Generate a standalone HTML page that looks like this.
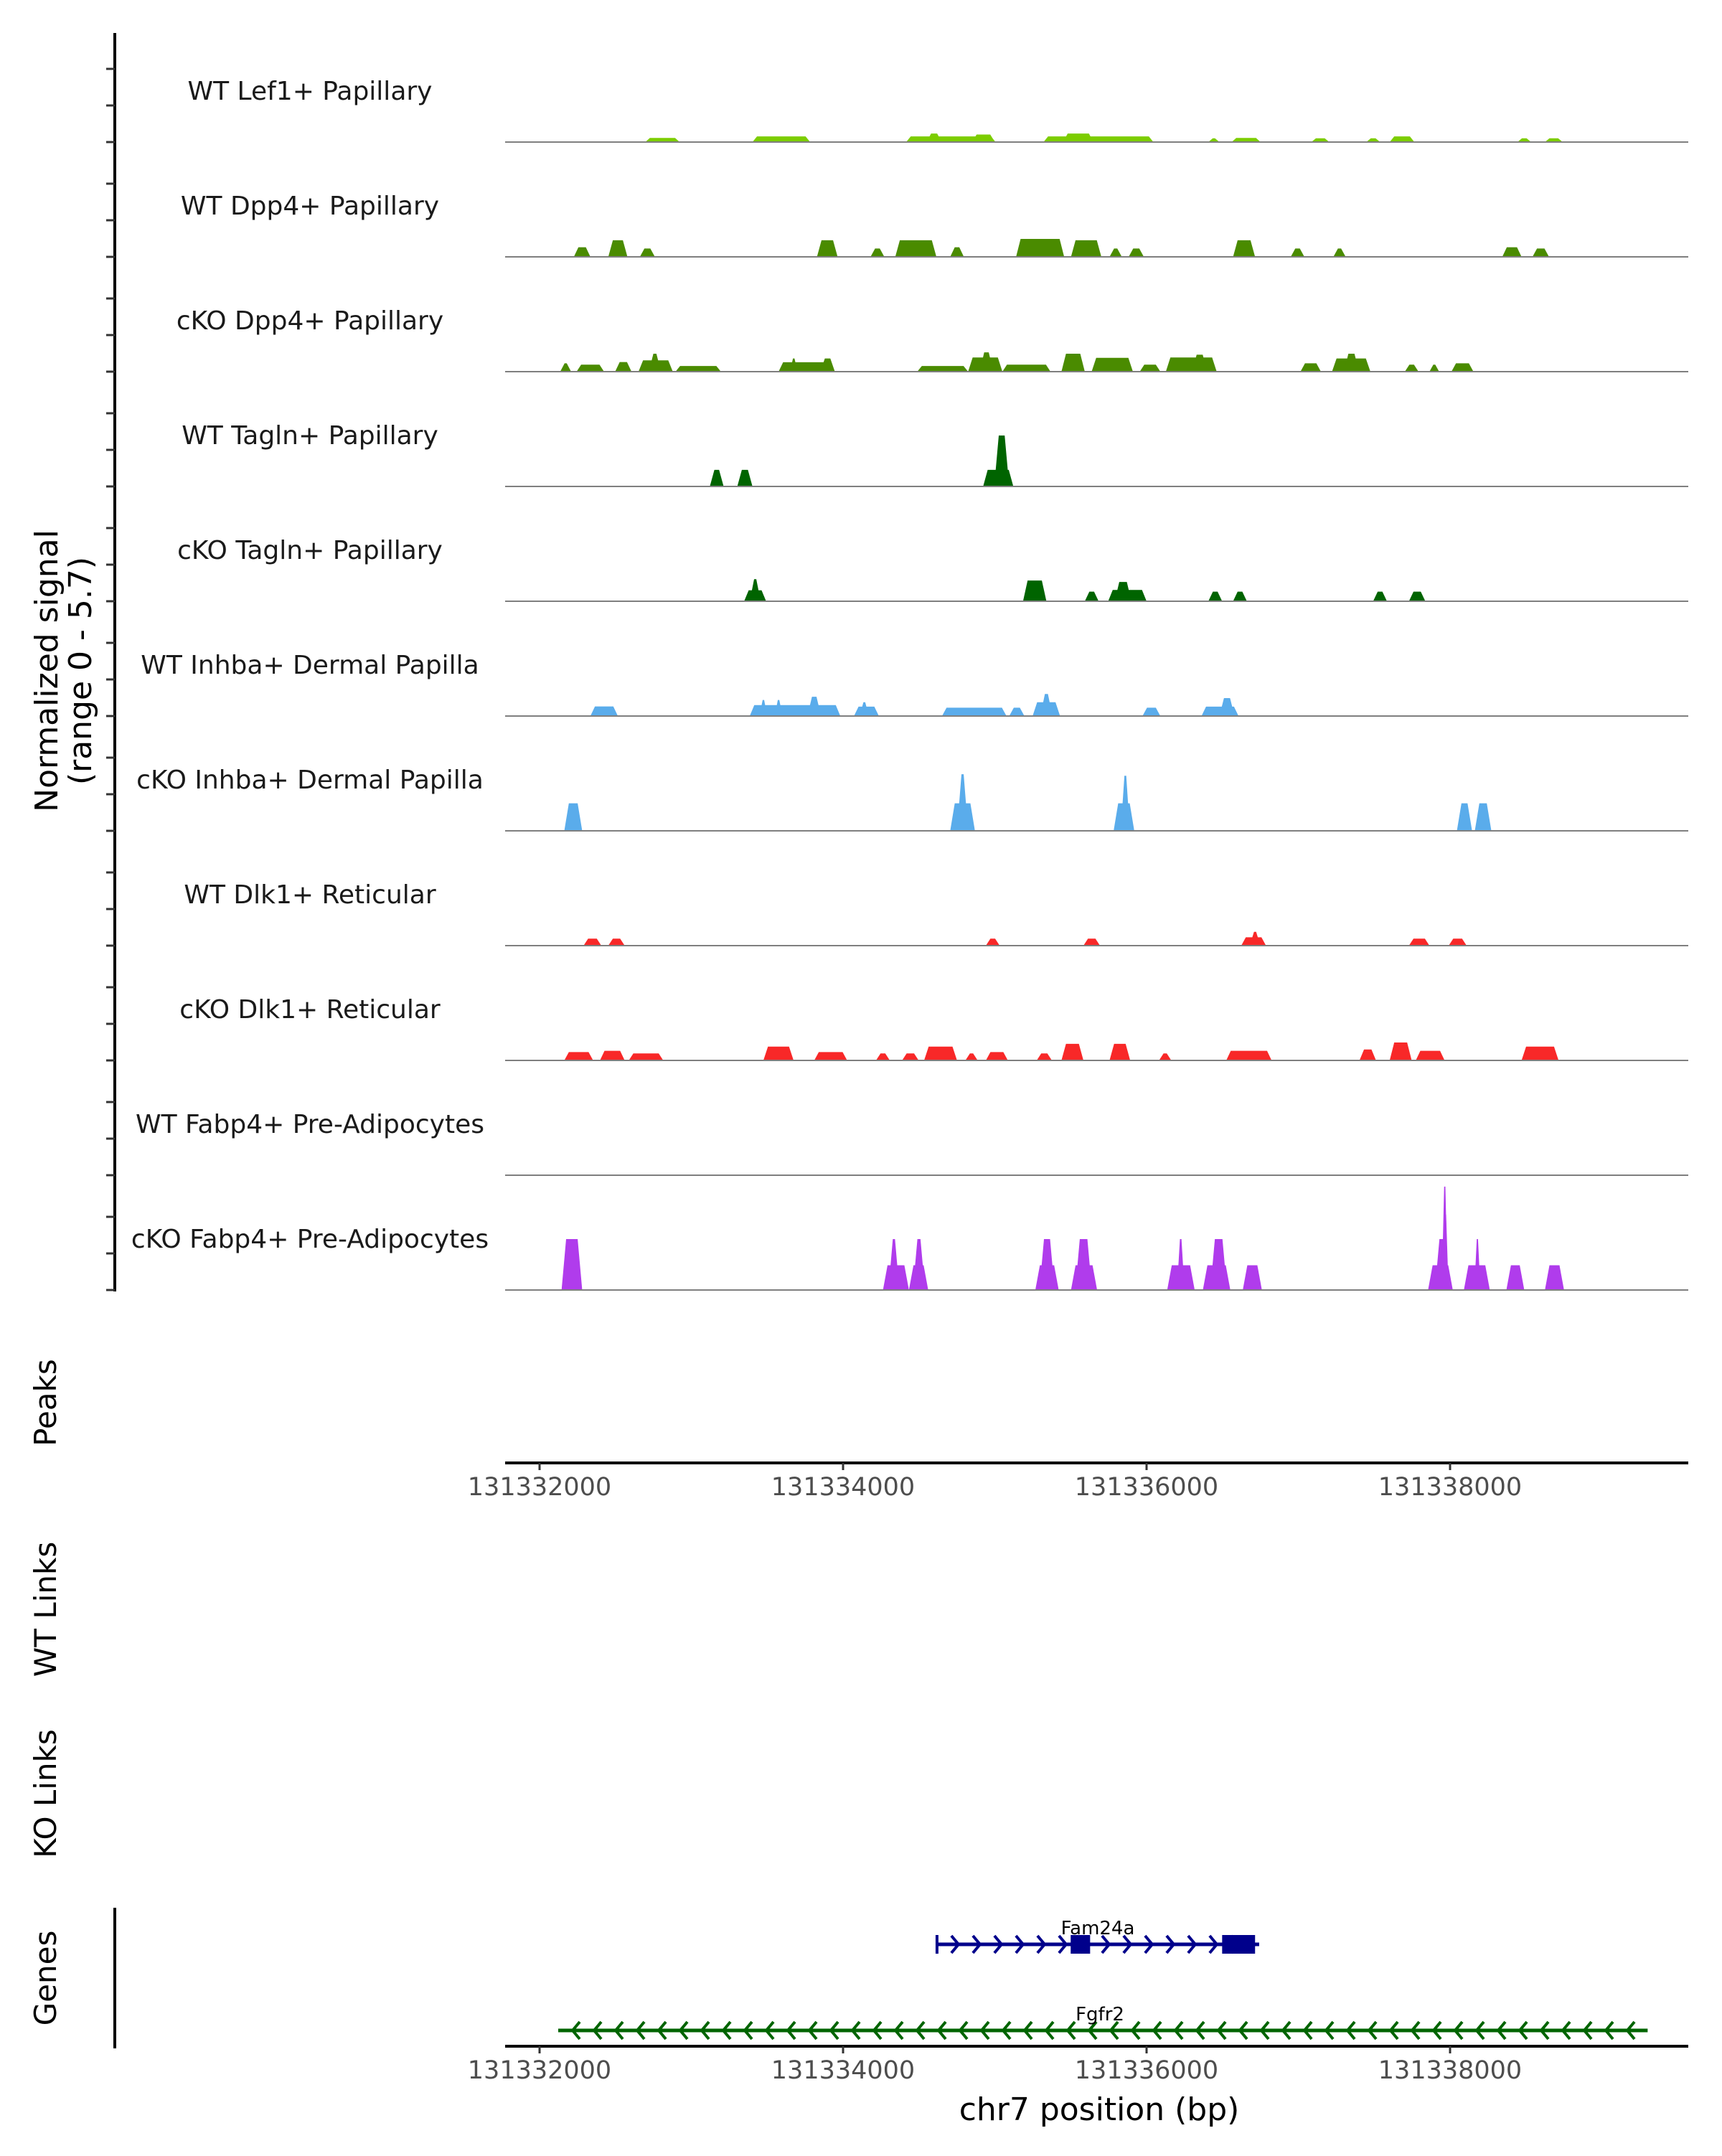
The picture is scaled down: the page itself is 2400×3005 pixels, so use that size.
<!DOCTYPE html>
<html><head><meta charset="utf-8"><style>
html,body{margin:0;padding:0;background:#fff;}
svg text{font-family:"DejaVu Sans","Liberation Sans",sans-serif;}
</style></head><body>
<svg id="chart" width="2400" height="3000" viewBox="0 0 2400 3000" xmlns="http://www.w3.org/2000/svg">
<rect width="2400" height="3000" fill="#fff"/>
<g id="tracks"></g>
<g id="yaxis"></g>
<text x="0" y="0" transform="translate(80,935) rotate(-90)" text-anchor="middle" font-size="44" fill="#000">Normalized signal</text>
<text x="0" y="0" transform="translate(127,935) rotate(-90)" text-anchor="middle" font-size="44" fill="#000">(range 0 - 5.7)</text>
<text transform="translate(78,1955) rotate(-90)" text-anchor="middle" font-size="42">Peaks</text>
<text transform="translate(78,2243) rotate(-90)" text-anchor="middle" font-size="42">WT Links</text>
<text transform="translate(78,2500) rotate(-90)" text-anchor="middle" font-size="42">KO Links</text>
<text transform="translate(78,2757) rotate(-90)" text-anchor="middle" font-size="42">Genes</text>
<g id="peaksaxis"></g>
<g id="genes"></g>
<text x="1532" y="2955" text-anchor="middle" font-size="44" fill="#000">chr7 position (bp)</text>
</svg>
<script>
const ORIGIN = 131332000;
const tickLabels = [131332000, 131334000, 131336000, 131338000];
const trackNames = ["WT Lef1+ Papillary","WT Dpp4+ Papillary","cKO Dpp4+ Papillary","WT Tagln+ Papillary","cKO Tagln+ Papillary","WT Inhba+ Dermal Papilla","cKO Inhba+ Dermal Papilla","WT Dlk1+ Reticular","cKO Dlk1+ Reticular","WT Fabp4+ Pre-Adipocytes","cKO Fabp4+ Pre-Adipocytes"];
const trackColors = ["#7ccd00","#4a8b00","#4a8b00","#006400","#006400","#5aaceb","#5aaceb","#f82828","#f82828","#b03cec","#b03cec"];
// peaks per track: [start offset bp, end offset bp, signal]
const lef1WT = [[697,923,0.22],[1403,1783,0.3],[2416,3005,0.3],[2550,2650,0.45],[2850,3000,0.4],[3321,4045,0.3],[3450,3650,0.45],[4407,4480,0.2],[4561,4751,0.22],[5086,5204,0.2],[5448,5539,0.2],[5602,5765,0.3],[6444,6534,0.2],[6625,6742,0.2]];
const dpp4WT = [[226,335,0.51],[453,579,0.88],[661,760,0.44],[1828,1964,0.88],[2181,2272,0.44],[2344,2615,0.88],[2706,2796,0.51],[3140,3457,0.95],[3502,3702,0.88],[3756,3837,0.44],[3882,3982,0.44],[4570,4715,0.88],[4950,5040,0.44],[5231,5312,0.44],[6344,6471,0.51],[6543,6652,0.44]];
const dpp4KO = [[136,208,0.44],[244,425,0.37],[498,606,0.51],[652,878,0.6],[720,800,0.95],[896,1195,0.3],[1575,1946,0.5],[1650,1700,0.7],[1850,1946,0.7],[2489,2824,0.3],[2824,3050,0.75],[2900,2990,1.02],[3050,3367,0.37],[3439,3593,0.95],[3638,3910,0.73],[3955,4091,0.37],[4127,4462,0.75],[4300,4400,0.9],[5014,5149,0.44],[5222,5475,0.7],[5300,5400,0.95],[5702,5792,0.37],[5864,5928,0.37],[6009,6154,0.44]];
const taglnWT = [[1122,1213,0.88],[1303,1403,0.88],[2923,3122,0.88],[2996,3095,2.7]];
const taglnKO = [[1348,1493,0.58],[1385,1457,1.17],[3186,3340,1.1],[3593,3684,0.51],[3747,4000,0.6],[3790,3900,1.02],[4407,4498,0.51],[4570,4661,0.51],[5493,5584,0.51],[5729,5837,0.51]];
const inhbaWT = [[335,516,0.51],[1385,1982,0.58],[1765,1855,1.02],[1450,1500,0.85],[1550,1600,0.85],[2072,2236,0.5],[2110,2170,0.73],[2652,3077,0.44],[3095,3195,0.44],[3249,3430,0.73],[3300,3380,1.17],[3973,4091,0.44],[4362,4606,0.5],[4480,4580,0.95]];
const inhbaKO = [[163,281,1.46],[2706,2869,1.46],[2751,2824,3.0],[3783,3919,1.46],[3830,3890,2.92],[6045,6145,1.46],[6163,6272,1.46]];
const dlk1WT = [[290,407,0.37],[453,561,0.37],[2941,3032,0.37],[3584,3693,0.37],[4624,4787,0.44],[4680,4750,0.73],[5729,5864,0.37],[5991,6109,0.37]];
const dlk1KO = [[163,353,0.44],[398,561,0.51],[588,815,0.37],[1475,1674,0.73],[1810,2027,0.44],[2217,2308,0.37],[2389,2498,0.37],[2534,2751,0.73],[2806,2887,0.37],[2941,3086,0.44],[3276,3376,0.37],[3439,3584,0.88],[3756,3892,0.88],[4082,4163,0.37],[4525,4824,0.51],[5403,5512,0.58],[5602,5747,0.95],[5774,5964,0.51],[6471,6715,0.73]];
const fabp4WT = [];
const fabp4KO = [[145,281,2.7],[2263,2434,1.31],[2299,2371,2.7],[2434,2561,1.31],[2460,2540,2.7],[3267,3421,1.31],[3294,3394,2.7],[3502,3674,1.31],[3530,3640,2.7],[4136,4317,1.31],[4200,4250,2.7],[4371,4552,1.31],[4420,4530,2.7],[4634,4760,1.31],[5855,6018,1.31],[5900,5990,2.7],[5950,5990,4.0],[5945,5985,5.48],[6091,6262,1.31],[6160,6200,2.7],[6371,6489,1.31],[6625,6751,1.31]];
const trackData = [lef1WT,dpp4WT,dpp4KO,taglnWT,taglnKO,inhbaWT,inhbaKO,dlk1WT,dlk1KO,fabp4WT,fabp4KO];
// genes: [start offset, end offset]
const fam24aSpan = [2619, 4742];
const fam24aExons = [[3500, 3628],[4498, 4715]];
const fgfr2Span = [123, 7302];

const NS = "http://www.w3.org/2000/svg";
const X0 = 704, X1 = 2353;
function xs(off){ return 752 + off * 0.2115; }
function ys(v){ return v * 26.3; }
function mk(tag, attrs, parent){ const e = document.createElementNS(NS, tag); for (const k in attrs) e.setAttribute(k, attrs[k]); parent.appendChild(e); return e; }

const tracksG = document.getElementById('tracks');
const yaxisG = document.getElementById('yaxis');
const axisLine = mk('line', {x1:160,y1:46,x2:160,y2:1800,stroke:'#000','stroke-width':4}, yaxisG);



trackNames.forEach((name, i) => {
  const base = 198 + 160 * i;
  const g = mk('g', {}, tracksG);
  
  
  const lbl = mk('text', {x:432, y:base - 59, 'text-anchor':'middle', 'font-size':36, fill:'#1a1a1a'}, g);
  lbl.textContent = name;
  
  
  trackData[i].forEach(p => {
    const a = xs(p[0]), b = xs(p[1]);
    const r = Math.min(30 * 0.2115, (b - a) / 2.5);
    const h = ys(p[2]);
    const poly = mk('polygon', {points: `${a},${base} ${a+r},${base-h} ${b-r},${base-h} ${b},${base}`, fill: trackColors[i]}, g);
    
    
  });
  const bl = mk('line', {x1:X0, y1:base, x2:X1, y2:base, stroke:'#7f7f7f', 'stroke-width':2}, g);
  
  
  [0, 51, 102].forEach(d => {
    const t = mk('line', {x1:148, y1:base - d, x2:160, y2:base - d, stroke:'#333', 'stroke-width':3}, yaxisG);
    
    
  });
});

function xAxis(y, gid){
  const g = document.getElementById(gid);
  const l = mk('line', {x1:X0, y1:y, x2:X1, y2:y, stroke:'#000', 'stroke-width':4}, g);
  
  
  tickLabels.forEach(v => {
    const x = xs(v - ORIGIN);
    const t = mk('line', {x1:x, y1:y, x2:x, y2:y + 10, stroke:'#333', 'stroke-width':3}, g);
    
    
    const tx = mk('text', {x:x, y:y + 45, 'text-anchor':'middle', 'font-size':35, fill:'#4d4d4d'}, g);
    tx.textContent = String(v);
    
    
  });
}
xAxis(2039, 'peaksaxis');
xAxis(2852, 'genes');

const gg = document.getElementById('genes');
const gAx = mk('line', {x1:160, y1:2659, x2:160, y2:2855, stroke:'#000', 'stroke-width':4}, gg);



function gene(name, span, exons, y, color, dir){
  const g = mk('g', {}, gg);
  
  
  const a = xs(span[0]), b = xs(span[1]);
  mk('line', {x1:a, y1:y, x2:b, y2:y, stroke:color, 'stroke-width':5}, g);
  for (let x = a + 25; x < b - 10; x += 30) {
    const d = dir > 0 ? `M${x-5},${y-12} L${x+5},${y} L${x-5},${y+12}` : `M${x+5},${y-12} L${x-5},${y} L${x+5},${y+12}`;
    mk('path', {d:d, stroke:color, 'stroke-width':4, fill:'none'}, g);
  }
  exons.forEach(e => {
    const r = mk('rect', {x:xs(e[0]), y:y - 13, width:xs(e[1]) - xs(e[0]), height:26, fill:color}, g);
    
    
  });
  const lbl = mk('text', {x:(a + b) / 2, y:y - 14, 'text-anchor':'middle', 'font-size':26, fill:'#000'}, g);
  lbl.textContent = name;
  
  
  return lbl;
}
const famLbl = gene('Fam24a', fam24aSpan, fam24aExons, 2710, '#00008b', 1);
famLbl.setAttribute('x', 1530);
mk('line', {x1:xs(fam24aSpan[0]), y1:2697, x2:xs(fam24aSpan[0]), y2:2723, stroke:'#00008b', 'stroke-width':4}, gg);
const fgLbl = gene('Fgfr2', fgfr2Span, [], 2830, '#006400', -1);
fgLbl.setAttribute('x', 1533);
</script>
</body></html>
